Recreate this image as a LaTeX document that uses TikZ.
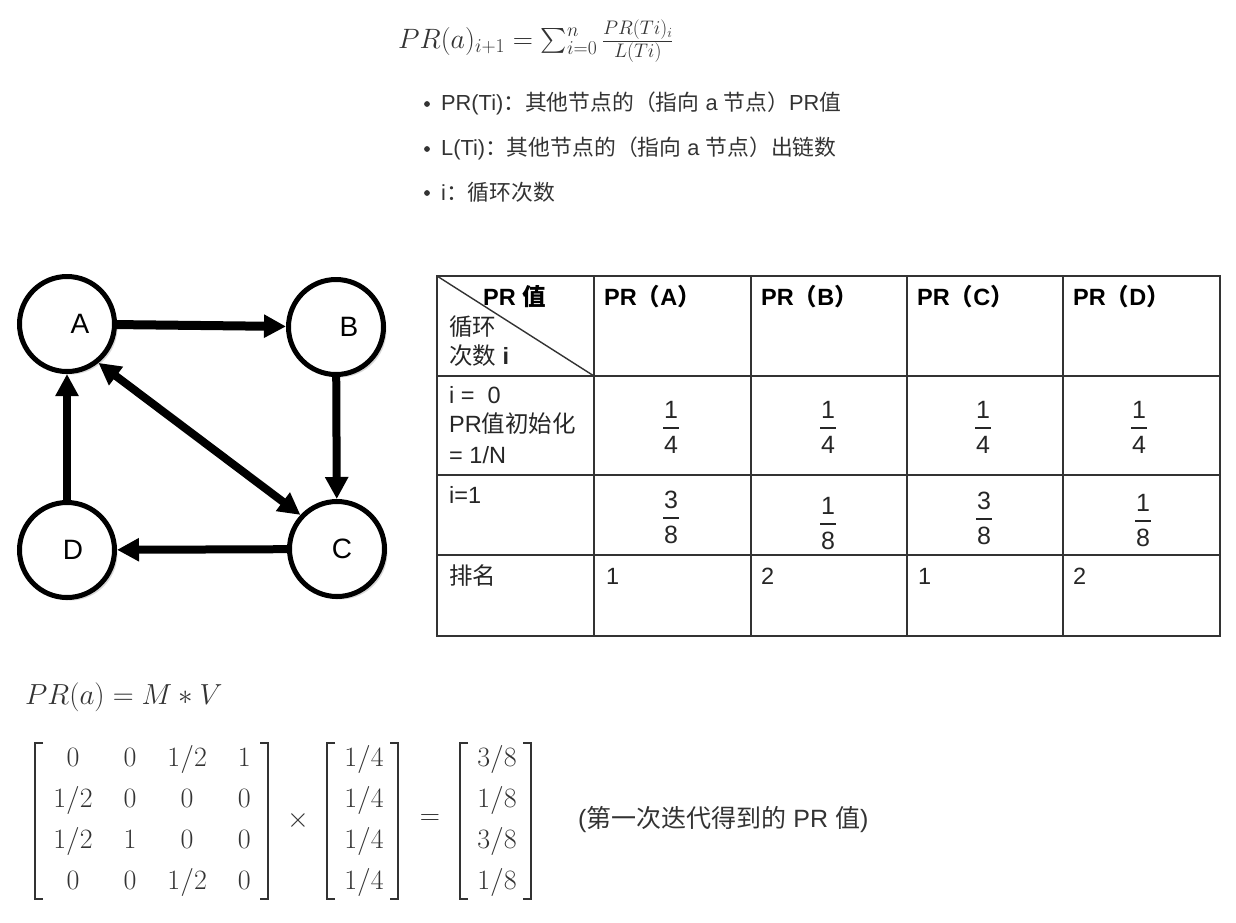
\RequirePackage{fix-cm}
\documentclass[tikz,border=0pt]{standalone}
\usepackage{amsmath}
\usepackage[no-math]{fontspec}
\setmainfont{Liberation Sans}
\newfontfamily\cjk{Noto Sans CJK SC}
\usetikzlibrary{arrows.meta,shadows}
\definecolor{txt}{HTML}{333333}
\definecolor{tline}{HTML}{333333}
\tikzset{
  vert/.style={circle, draw=black, line width=5pt, minimum size=95pt, inner sep=0pt, fill=white,
    drop shadow={shadow xshift=3pt, shadow yshift=-3pt, fill=black!30}},
  vlab/.style={font=\fontsize{28}{30}\selectfont, inner sep=0pt},
  arr/.style={line width=8pt, -{Triangle[length=22pt,width=22pt]}},
  darr/.style={line width=8pt, {Triangle[length=22pt,width=22pt]}-{Triangle[length=22pt,width=22pt]}},
  btxt/.style={anchor=west, inner sep=0pt, text=txt, font=\fontsize{21.8}{24}\selectfont},
  tl/.style={draw=tline, line width=1.4pt},
  tt/.style={anchor=west, inner sep=0pt, text=black!85, font=\fontsize{23.5}{26}\selectfont},
  th/.style={anchor=west, inner sep=0pt, text=black, font=\fontsize{23.5}{26}\selectfont\bfseries},
  fn/.style={inner sep=0pt, text=black!85, font=\fontsize{25}{28}\selectfont},
  fb/.style={line width=1.8pt, black!85},
  mth/.style={inner sep=0pt, text=txt},
  mtx/.style={inner sep=0pt, text=txt, font=\fontsize{28}{34}\selectfont},
  brk/.style={draw=txt, line width=2.8pt, line join=miter},
}
\newcommand\frc[5]{%
  \node[fn] (#1n) at (#2,#3-18) {#4};
  \draw[fb] (#2-8,#3) -- (#2+8,#3);
  \node[fn] (#1d) at (#2,#3+17) {#5};}
\newcommand\lbrk[2]{\draw[brk] (#1+8,#2-78) -- (#1,#2-78) -- (#1,#2+78) -- (#1+8,#2+78);}
\newcommand\rbrk[2]{\draw[brk] (#1-8,#2-78) -- (#1,#2-78) -- (#1,#2+78) -- (#1-8,#2+78);}
\begin{document}
\begin{tikzpicture}[x=1pt,y=-1pt]
\useasboundingbox[fill=white] (0,0) rectangle (1236,922);

% top formula
\node[mth, anchor=base west, font=\fontsize{28}{34}\selectfont] (f1) at (398,48)
  {$PR(a)_{i+1} = \sum_{i=0}^{n} \frac{PR(Ti)_i}{L(Ti)}$};

% bullets
\fill[txt] (427,104) circle (2.9pt);
\fill[txt] (427,149) circle (2.9pt);
\fill[txt] (427,193) circle (2.9pt);
\node[btxt] (b1) at (441,103) {PR(Ti){\cjk ：其他节点的（指向} a {\cjk 节点）}PR{\cjk 值}};
\node[btxt] (b2) at (441,148) {L(Ti){\cjk ：其他节点的（指向} a {\cjk 节点）出链数}};
\node[btxt] (b3) at (441,192) {i{\cjk ：循环次数}};

% graph
\node[vert, label={[vlab, xshift=13pt]center:A}] (A) at (67,324) {};
\node[vert, label={[vlab, xshift=13pt]center:B}] (B) at (336,327) {};
\node[vert, label={[vlab, xshift=5pt]center:C}] (C) at (337,549) {};
\node[vert, label={[vlab, xshift=6pt]center:D}] (D) at (67,550) {};
\draw[arr, line width=9pt] (A) -- (B);
\draw[arr] (B) -- (C);
\draw[arr] (C) -- (D);
\draw[arr] (D) -- (A);
\draw[darr] (A.-51) -- (C.137);

% table
\draw[tl] (437,276) rectangle (1220,636);
\foreach \x in {594,751,907,1063} \draw[tl] (\x,276) -- (\x,636);
\foreach \y in {376,475,555} \draw[tl] (437,\y) -- (1220,\y);
\draw[tl] (437,276) -- (594,376);

\node[th] (h0) at (483,297) {PR {\cjk\bfseries 值}};
\node[tt] (h1) at (449,327) {{\cjk 循环}};
\node[tt] (h2) at (449,356) {{\cjk 次数} \textbf{i}};
\node[th] (hA) at (604,297) {PR{\cjk （}A{\cjk ）}};
\node[th] (hB) at (761,297) {PR{\cjk （}B{\cjk ）}};
\node[th] (hC) at (917,297) {PR{\cjk （}C{\cjk ）}};
\node[th] (hD) at (1073,297) {PR{\cjk （}D{\cjk ）}};

\node[tt] (r1a) at (449,395) {i =\ \ 0};
\node[tt] (r1b) at (449,424) {PR{\cjk 值初始化}};
\node[tt] (r1c) at (449,455) {= 1/N};
\frc{pa}{671}{428}{1}{4}
\frc{pb}{828}{428}{1}{4}
\frc{pc}{983}{428}{1}{4}
\frc{pd}{1139}{428}{1}{4}

\node[tt] (r2a) at (449,495) {i=1};
\frc{qa}{671}{518}{3}{8}
\frc{qb}{828}{524}{1}{8}
\frc{qc}{984}{519}{3}{8}
\frc{qd}{1143}{521}{1}{8}

\node[tt] (r3a) at (449,576) {{\cjk 排名}};
\node[tt] (r3b) at (606,576) {1};
\node[tt] (r3c) at (761,576) {2};
\node[tt] (r3d) at (918,576) {1};
\node[tt] (r3e) at (1073,576) {2};

% bottom formula
\node[mth, anchor=base west, font=\fontsize{29}{36}\selectfont] (f2) at (25,704) {$PR(a) = M * V$};
\node[mtx] (mat) at (152,820)
 {$\setlength\arraycolsep{15.5pt}\renewcommand\arraystretch{1.2}%
 \begin{matrix}0&0&1/2&1\\1/2&0&0&0\\1/2&1&0&0\\0&0&1/2&0\end{matrix}$};
\node[mtx] (times) at (298,820) {$\times$};
\node[mtx] (vec) at (364,820)
 {$\renewcommand\arraystretch{1.2}\begin{matrix}1/4\\1/4\\1/4\\1/4\end{matrix}$};
\node[mtx] (eq) at (430,820) {$=$};
\node[mtx] (res) at (497,820)
 {$\renewcommand\arraystretch{1.2}\begin{matrix}3/8\\1/8\\3/8\\1/8\end{matrix}$};
\lbrk{35}{821}\rbrk{268}{821}
\lbrk{327}{821}\rbrk{398}{821}
\lbrk{460}{821}\rbrk{531}{821}
\node[anchor=west, inner sep=0pt, text=txt, font=\fontsize{25}{28}\selectfont] (note) at (578,820)
 {({\cjk 第一次迭代得到的} PR {\cjk 值})};
\end{tikzpicture}
\end{document}
